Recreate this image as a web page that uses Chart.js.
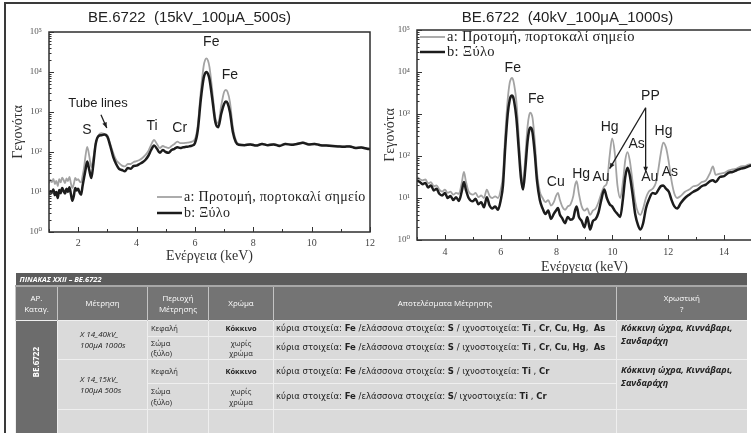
<!DOCTYPE html>
<html lang="el">
<head>
<meta charset="utf-8">
<title>BE.6722 XRF</title>
<script src="https://cdn.jsdelivr.net/npm/chart.js@4.4.1/dist/chart.umd.min.js"></script>
<style>
  html, body { margin: 0; padding: 0; background: #fff; }
  body { width: 751px; height: 433px; overflow: hidden; position: relative; font-family: 'Liberation Sans', Arial, sans-serif; }
  #frame { position: absolute; left: 4px; top: 2px; width: 800px; height: 500px; border-left: 2px solid #3a3a3a; border-top: 2px solid #3a3a3a; }
  canvas { position: absolute; top: 0; }
  #c15 { left: 6px; }
  #c40 { left: 378px; }

  #tbl { position: absolute; left: 15px; top: 273px; width: 731px; border-collapse: collapse; table-layout: fixed;
         font-family: 'Open Sans', 'Liberation Sans', sans-serif; font-size: 7.5px; color: #222; line-height: 1.35; }
  #tbl td, #tbl th { padding: 0 3px; overflow: hidden; white-space: nowrap; }
  #tbl .cap td { background: #5c5c5c; color: #fff; font-style: italic; font-weight: bold; height: 12px; padding-left: 4px; border-bottom: 2px solid #a8a8a8; }
  #tbl .hd th { background: #747474; color: #fff; font-weight: normal; height: 33px; border-left: 1px solid #c4c4c4; text-align: center; font-size: 8px; }
  #tbl .bd td { background: #dadada; border-top: 1px solid #efefef; border-left: 1px solid #efefef; vertical-align: middle; }
  #tbl td.id { background: #6c6c6c; color: #fff; font-weight: bold; text-align: center; vertical-align: top; padding-top: 26px; font-size: 8px; }
  #tbl td.id span { writing-mode: vertical-rl; transform: rotate(180deg); display: inline-block; }
  #tbl td.ms { font-style: italic; padding-left: 22px; font-size: 8px; }
  #tbl td.c { text-align: center; }
  #tbl td.res { font-family: 'DejaVu Sans', 'Liberation Sans', sans-serif; font-size: 8.5px; padding-left: 2px; }
  #tbl td.pg { font-style: italic; font-weight: bold; vertical-align: top; padding-left: 4px; font-size: 9px; line-height: 1.45; }
</style>
</head>
<body>
<div id="frame"></div>
<canvas id="c15" width="374" height="265"></canvas>
<canvas id="c40" width="380" height="278"></canvas>

<table id="tbl">
  <colgroup><col style="width:42px"><col style="width:90px"><col style="width:61px"><col style="width:65px"><col style="width:343px"><col style="width:130px"></colgroup>
  <tr class="cap"><td colspan="6">ΠΙΝΑΚΑΣ ΧΧΙΙ – ΒΕ.6722</td></tr>
  <tr class="hd"><th>ΑΡ.<br>Καταγ.</th><th>Μέτρηση</th><th>Περιοχή<br>Μέτρησης</th><th>Χρώμα</th><th>Αποτελέσματα Μέτρησης</th><th>Χρωστική<br>?</th></tr>
  <tr class="bd" style="height:16px">
    <td class="id" rowspan="5"><span>BE.6722</span></td>
    <td class="ms" rowspan="2">Χ 14_40kV_<br>100μA 1000s</td>
    <td>Κεφαλή</td><td class="c"><b>Κόκκινο</b></td>
    <td class="res">κύρια στοιχεία: <b>Fe</b> /ελάσσονα στοιχεία: <b>S</b> / ιχνοστοιχεία: <b>Ti</b> , <b>Cr</b>, <b>Cu</b>, <b>Hg</b>,&nbsp; <b>As</b></td>
    <td class="pg" rowspan="2" style="padding-top:0">Κόκκινη ώχρα, Κιννάβαρι,<br>Σανδαράχη</td>
  </tr>
  <tr class="bd" style="height:23px">
    <td>Σώμα<br>(ξύλο)</td><td class="c">χωρίς<br>χρώμα</td>
    <td class="res">κύρια στοιχεία: <b>Fe</b> /ελάσσονα στοιχεία: <b>S</b> / ιχνοστοιχεία: <b>Ti</b> , <b>Cr</b>, <b>Cu</b>, <b>Hg</b>,&nbsp; <b>As</b></td>
  </tr>
  <tr class="bd" style="height:24px">
    <td class="ms" rowspan="2">Χ 14_15kV_<br>100μA 500s</td>
    <td>Κεφαλή</td><td class="c"><b>Κόκκινο</b></td>
    <td class="res">κύρια στοιχεία: <b>Fe</b> /ελάσσονα στοιχεία: <b>S</b> / ιχνοστοιχεία: <b>Ti</b> , <b>Cr</b></td>
    <td class="pg" rowspan="2" style="padding-top:3px">Κόκκινη ώχρα, Κιννάβαρι,<br>Σανδαράχη</td>
  </tr>
  <tr class="bd" style="height:26px">
    <td>Σώμα<br>(ξύλο)</td><td class="c">χωρίς<br>χρώμα</td>
    <td class="res">κύρια στοιχεία: <b>Fe</b> /ελάσσονα στοιχεία: <b>S</b>/ ιχνοστοιχεία: <b>Ti</b> , <b>Cr</b></td>
  </tr>
  <tr class="bd" style="height:30px"><td></td><td></td><td></td><td></td><td></td></tr>
</table>

<script>
// ── Data: 15kV spectrum (energy in keV, log10 of counts) ──────────
var energy15 = [
  1.0,1.05,1.1,1.15,1.2,1.25,1.3,1.35,1.4,1.45,1.5,1.55,1.6,1.65,1.7,1.75,1.8,1.85,1.9,1.95,2.0,2.05,2.1,2.15,2.2,
  2.25,2.31,2.38,2.45,2.52,2.6,2.7,2.8,2.9,3.0,
  3.1,3.2,3.3,3.4,3.5,3.6,3.7,3.8,3.9,4.0,
  4.1,4.2,4.3,4.4,4.5,4.6,4.7,4.8,4.9,5.0,
  5.1,5.2,5.3,5.4,5.5,5.6,5.7,5.8,5.9,
  6.0,6.1,6.2,6.3,6.35,6.4,6.45,6.5,6.6,6.7,
  6.8,6.9,7.0,7.06,7.12,7.2,7.3,7.4,7.5,
  7.7,7.9,8.1,8.3,8.5,8.7,8.9,9.1,9.3,9.5,
  9.7,9.9,10.1,10.3,10.5,10.7,10.9,11.1,11.3,11.5,
  11.7,11.9,12.0
];
var logA15 = [   // a: Προτομή, πορτοκαλί σημείο
  1.22,1.3,1.25,1.33,1.2,1.28,1.15,1.32,1.24,1.36,1.3,1.22,1.34,1.27,1.38,1.22,1.1,1.2,1.35,1.3,1.32,1.26,1.24,1.4,1.6,
  1.9,2.13,1.9,1.62,1.85,2.22,2.42,2.47,2.45,2.42,
  2.2,1.98,1.8,1.72,1.66,1.64,1.7,1.7,1.75,1.77,
  1.8,1.85,1.92,2.02,2.18,2.3,2.2,2.1,2.15,2.12,
  2.1,2.15,2.2,2.26,2.22,2.22,2.23,2.24,2.26,
  2.32,2.68,3.5,4.15,4.3,4.34,4.28,4.12,3.5,2.85,
  2.72,3.15,3.5,3.55,3.5,3.25,2.62,2.3,2.2,
  2.18,2.2,2.17,2.21,2.18,2.2,2.17,2.21,2.19,2.21,
  2.24,2.2,2.21,2.18,2.17,2.16,2.15,2.14,2.15,2.11,
  2.12,2.09,2.08
];
var logB15 = [   // b: Ξύλο
  0.95,1.02,0.98,1.06,0.92,1.0,0.85,1.05,0.97,1.1,1.03,0.96,1.08,1.0,1.12,0.95,0.78,0.9,1.1,1.04,1.08,0.98,0.93,1.15,1.35,
  1.55,1.76,1.55,1.35,1.7,2.2,2.4,2.42,2.44,2.38,
  2.15,1.88,1.7,1.58,1.55,1.52,1.6,1.58,1.65,1.66,
  1.7,1.74,1.8,1.9,2.05,2.16,2.08,1.98,2.05,2.0,
  1.98,2.05,2.08,2.12,2.1,2.12,2.13,2.14,2.16,
  2.22,2.55,3.3,3.85,3.97,4.0,3.95,3.82,3.3,2.75,
  2.62,2.95,3.2,3.26,3.22,3.0,2.5,2.25,2.18,
  2.17,2.19,2.16,2.2,2.17,2.19,2.15,2.2,2.18,2.2,
  2.23,2.19,2.2,2.17,2.16,2.15,2.14,2.13,2.14,2.1,
  2.11,2.08,2.07
];

// ── Data: 40kV spectrum ───────────────────────────────────────────
var energy40 = [
  3.0,3.1,3.2,3.3,3.4,3.5,3.6,3.7,3.8,3.9,
  4.0,4.1,4.2,4.3,4.4,4.5,4.6,4.68,4.75,4.85,
  5.0,5.1,5.2,5.3,5.4,5.5,5.6,5.7,5.8,5.9,
  6.0,6.08,6.16,6.25,6.32,6.36,6.4,6.44,6.48,6.56,6.64,6.72,
  6.8,6.88,6.96,7.02,7.06,7.1,7.14,7.22,7.3,7.4,7.5,7.6,
  7.7,7.8,7.9,7.98,8.05,8.12,8.2,8.3,8.4,8.5,
  8.6,8.66,8.72,8.8,8.9,9.0,9.1,9.2,9.3,9.4,
  9.5,9.6,9.71,9.8,9.9,9.99,10.08,10.18,10.28,10.38,
  10.46,10.54,10.62,10.72,10.82,10.92,11.0,11.1,11.2,11.3,
  11.44,11.55,11.65,11.73,11.82,11.92,12.02,12.12,12.22,12.32,
  12.45,12.6,12.75,12.9,13.05,13.2,13.35,13.5,13.6,13.7,
  13.85,14.0,14.15,14.3,14.45,14.6,14.75,14.9,15.0
];
var logA40 = [
  1.5,1.45,1.42,1.44,1.35,1.38,1.28,1.3,1.2,1.15,
  1.2,1.12,1.15,1.08,1.12,1.1,1.35,1.62,1.4,1.15,
  1.08,1.12,1.02,1.06,1.0,1.2,1.05,1.0,1.04,1.0,
  1.2,1.55,2.5,3.35,3.74,3.83,3.86,3.82,3.7,3.3,2.5,1.7,
  1.35,2.0,2.7,2.98,3.03,3.0,2.9,2.35,1.6,1.15,1.0,0.9,
  0.95,0.82,0.9,1.05,1.12,0.95,0.8,0.72,0.8,0.85,
  1.05,1.3,1.4,1.1,0.8,0.7,0.75,0.6,0.7,0.75,
  0.9,1.1,1.28,1.35,2.0,2.42,2.1,1.3,1.0,1.4,
  1.9,2.09,1.9,1.4,0.9,0.65,0.6,0.75,1.0,1.15,
  1.22,1.35,1.7,2.05,2.32,2.2,1.85,1.4,1.1,1.0,
  1.05,1.15,1.2,1.28,1.3,1.38,1.42,1.6,1.75,1.55,
  1.58,1.6,1.65,1.68,1.7,1.75,1.76,1.8,1.8
];
var logB40 = [
  1.42,1.38,1.33,1.36,1.25,1.3,1.18,1.22,1.1,1.06,
  1.12,1.0,1.05,0.95,1.02,0.93,1.15,1.38,1.2,1.0,
  0.92,0.98,0.85,0.9,0.78,1.02,0.82,0.75,0.8,0.72,
  0.95,1.3,2.2,3.0,3.33,3.42,3.44,3.41,3.3,2.9,2.2,1.5,
  1.2,1.7,2.35,2.62,2.68,2.66,2.55,2.05,1.4,0.95,0.75,0.62,
  0.7,0.5,0.62,0.7,0.76,0.6,0.52,0.4,0.55,0.48,
  0.52,0.7,0.8,0.55,0.45,0.3,0.55,0.25,0.45,0.5,
  0.65,0.95,1.2,1.0,0.85,0.8,0.7,0.62,0.55,1.0,
  1.5,1.72,1.55,1.1,0.6,0.35,0.25,0.4,0.75,0.95,
  1.12,1.1,1.2,1.28,1.3,1.22,1.15,0.95,0.8,0.75,
  0.88,1.0,1.08,1.15,1.2,1.28,1.32,1.4,1.42,1.38,
  1.5,1.52,1.6,1.62,1.66,1.7,1.72,1.76,1.78
];

var seriesNames = ['a: Προτομή, πορτοκαλί σημείο', 'b: Ξύλο'];

// peak labels (x in keV, y in counts)
var peaks15 = [
  { text: 'Fe', x: 6.56, y: 56000 },
  { text: 'Fe', x: 7.2,  y: 8500 },
  { text: 'Tube lines', x: 2.68, y: 1660, size: 13 },
  { text: 'S',  x: 2.3,  y: 355 },
  { text: 'Ti', x: 4.53, y: 447 },
  { text: 'Cr', x: 5.48, y: 400 }
];
var arrows15 = [ { from: [2.78, 850], to: [2.98, 400] } ];

var peaks40 = [
  { text: 'Fe', x: 6.43,  y: 12600 },
  { text: 'Fe', x: 7.27,  y: 2240 },
  { text: 'PP', x: 11.36, y: 2700 },
  { text: 'Hg', x: 9.9,   y: 480 },
  { text: 'As', x: 10.87, y: 195 },
  { text: 'Hg', x: 11.83, y: 400 },
  { text: 'Cu', x: 7.97,  y: 24 },
  { text: 'Hg', x: 8.88,  y: 38 },
  { text: 'Au', x: 9.59,  y: 32 },
  { text: 'Au', x: 11.34, y: 32 },
  { text: 'As', x: 12.06, y: 42 }
];
var arrows40 = [
  { from: [11.19, 1410], to: [9.9, 50] },
  { from: [11.19, 1410], to: [11.19, 41] }
];

// ── Helpers ───────────────────────────────────────────────────────
var SUP = ['⁰','¹','²','³','⁴','⁵','⁶'];
var SERIF = "'Liberation Serif', 'DejaVu Serif', serif";
var SANS = "'Liberation Sans', Arial, sans-serif";

function toPoints(xs, logs) {
  return xs.map(function(x, i) { return { x: x, y: Math.pow(10, logs[i]) }; });
}

function powLabel(v) {
  var e = Math.log10(v);
  if (Math.abs(e - Math.round(e)) > 1e-9) return '';
  return '10' + SUP[Math.round(e)];
}

// box round the plot area
var frameBox = {
  id: 'frameBox',
  afterDraw: function(chart) {
    var a = chart.chartArea, ctx = chart.ctx;
    ctx.save();
    ctx.strokeStyle = '#2e2e2e';
    ctx.lineWidth = 1.5;
    ctx.strokeRect(a.left, a.top, a.right - a.left, a.bottom - a.top);
    ctx.restore();
  }
};

// tick marks pointing into the plot
var innerTicks = {
  id: 'innerTicks',
  afterDraw: function(chart) {
    var a = chart.chartArea, ctx = chart.ctx, xs = chart.scales.x, ys = chart.scales.y;
    ctx.save();
    ctx.strokeStyle = '#333';
    ctx.lineWidth = 1;
    ctx.beginPath();
    xs.ticks.forEach(function(t) {
      var px = Math.round(xs.getPixelForValue(t.value)) + 0.5;
      var len = (t.value % 2 === 0) ? 5 : 3;
      ctx.moveTo(px, a.bottom); ctx.lineTo(px, a.bottom - len);
    });
    ys.ticks.forEach(function(t) {
      var e = Math.floor(Math.log10(t.value) + 1e-9);
      var sig = t.value / Math.pow(10, e);
      if (Math.abs(sig - Math.round(sig)) > 1e-6) return;
      var py = Math.round(ys.getPixelForValue(t.value)) + 0.5;
      var len = Math.abs(sig - 1) < 1e-6 ? 5 : 2.5;
      ctx.moveTo(a.left, py); ctx.lineTo(a.left + len, py);
    });
    ctx.stroke();
    ctx.restore();
  }
};

// legend drawn inside the plot area
var innerLegend = {
  id: 'innerLegend',
  afterDatasetsDraw: function(chart, args, o) {
    var a = chart.chartArea, ctx = chart.ctx;
    ctx.save();
    ctx.beginPath();
    ctx.rect(a.left, a.top, a.right - a.left, a.bottom - a.top);
    ctx.clip();
    ctx.font = o.fontSize + 'px ' + SERIF;
    ctx.letterSpacing = '0.3px';
    ctx.textBaseline = 'middle';
    ctx.fillStyle = '#222';
    chart.data.datasets.forEach(function(ds, i) {
      var y = (o.top !== undefined) ? a.top + o.top + i * o.gap : a.bottom - o.bottom + i * o.gap;
      var x = a.left + o.left;
      ctx.strokeStyle = ds.borderColor;
      ctx.lineWidth = ds.borderWidth;
      ctx.beginPath(); ctx.moveTo(x, y); ctx.lineTo(x + o.lineLen, y); ctx.stroke();
      ctx.fillText(ds.label, x + o.lineLen + 2, y);
    });
    ctx.restore();
  }
};

// element names and arrows
var peakLabels = {
  id: 'peakLabels',
  afterDatasetsDraw: function(chart, args, o) {
    var ctx = chart.ctx, xs = chart.scales.x, ys = chart.scales.y;
    ctx.save();
    ctx.fillStyle = '#1e1e1e';
    ctx.strokeStyle = '#1e1e1e';
    ctx.textAlign = 'center';
    ctx.textBaseline = 'middle';
    (o.labels || []).forEach(function(l) {
      ctx.font = (l.size || o.size) + 'px ' + SANS;
      ctx.fillText(l.text, xs.getPixelForValue(l.x), ys.getPixelForValue(l.y));
    });
    (o.arrows || []).forEach(function(ar) {
      var x0 = xs.getPixelForValue(ar.from[0]), y0 = ys.getPixelForValue(ar.from[1]);
      var x1 = xs.getPixelForValue(ar.to[0]),   y1 = ys.getPixelForValue(ar.to[1]);
      var ang = Math.atan2(y1 - y0, x1 - x0), h = 6;
      ctx.lineWidth = 1.3;
      ctx.beginPath(); ctx.moveTo(x0, y0); ctx.lineTo(x1, y1); ctx.stroke();
      ctx.beginPath();
      ctx.moveTo(x1, y1);
      ctx.lineTo(x1 - h * Math.cos(ang - 0.4), y1 - h * Math.sin(ang - 0.4));
      ctx.lineTo(x1 - h * Math.cos(ang + 0.4), y1 - h * Math.sin(ang + 0.4));
      ctx.closePath(); ctx.fill();
    });
    ctx.restore();
  }
};

function makeSpectrum(canvasId, cfg) {
  return new Chart(document.getElementById(canvasId), {
    type: 'line',
    data: {
      datasets: [
        { label: seriesNames[0], data: cfg.a, borderColor: '#a3a3a3', borderWidth: 1.8, order: 1 },
        { label: seriesNames[1], data: cfg.b, borderColor: '#1c1c1c', borderWidth: 2.5, order: 0 }
      ]
    },
    options: {
      responsive: false,
      animation: false,
      elements: { point: { radius: 0 }, line: { cubicInterpolationMode: 'monotone', fill: false } },
      layout: { padding: { left: 0, right: cfg.padRight, top: 0, bottom: 0 } },
      plugins: {
        legend: { display: false },
        tooltip: { enabled: false },
        title: {
          display: true, text: cfg.title, color: '#222',
          font: { family: SANS, size: 15, weight: 'normal' },
          padding: cfg.titlePad
        },
        innerLegend: cfg.legend,
        peakLabels: { size: 14, labels: cfg.labels, arrows: cfg.arrows }
      },
      scales: {
        x: {
          type: 'linear', min: cfg.xMin, max: cfg.xMax,
          border: { display: false },
          grid: { display: false, drawTicks: false },
          ticks: {
            stepSize: 1, autoSkip: false, padding: cfg.xTickPad, color: '#444',
            font: { family: SERIF, size: 10 },
            callback: function(v) { return v % 2 === 0 ? v : ''; }
          },
          title: { display: true, text: 'Ενέργεια (keV)', color: '#333', font: { family: SERIF, size: 14 }, padding: { top: 0, bottom: cfg.xTitleBottom } },
          afterFit: function(s) { s.height = cfg.xHeight; }
        },
        y: {
          type: 'logarithmic', min: 1, max: 100000,
          border: { display: false },
          grid: { display: false, drawTicks: false },
          ticks: {
            autoSkip: false, padding: 7, color: '#555',
            font: { family: SERIF, size: 9 },
            callback: powLabel
          },
          title: { display: true, text: 'Γεγονότα', color: '#333', font: { family: SERIF, size: 14 }, padding: { top: 4, bottom: 0 } },
          afterFit: function(s) { s.width = cfg.yWidth; }
        }
      }
    },
    plugins: [frameBox, innerTicks, innerLegend, peakLabels]
  });
}

makeSpectrum('c15', {
  title: 'BE.6722  (15kV_100μA_500s)',
  a: toPoints(energy15, logA15), b: toPoints(energy15, logB15),
  xMin: 1, xMax: 12, yWidth: 43, xHeight: 33, padRight: 7,
  titlePad: { top: 9, bottom: 5 }, xTickPad: 5, xTitleBottom: 0,
  legend: { left: 108, bottom: 35, gap: 16, lineLen: 25, fontSize: 14 },
  labels: peaks15, arrows: arrows15
});

makeSpectrum('c40', {
  title: 'BE.6722  (40kV_100μA_1000s)',
  a: toPoints(energy40, logA40), b: toPoints(energy40, logB40),
  xMin: 3, xMax: 15, yWidth: 39, xHeight: 38, padRight: 1,
  titlePad: { top: 9, bottom: 3 }, xTickPad: 6, xTitleBottom: 2,
  legend: { left: 3, top: 7, gap: 15, lineLen: 25, fontSize: 14.5 },
  labels: peaks40, arrows: arrows40
});
</script>
</body>
</html>
